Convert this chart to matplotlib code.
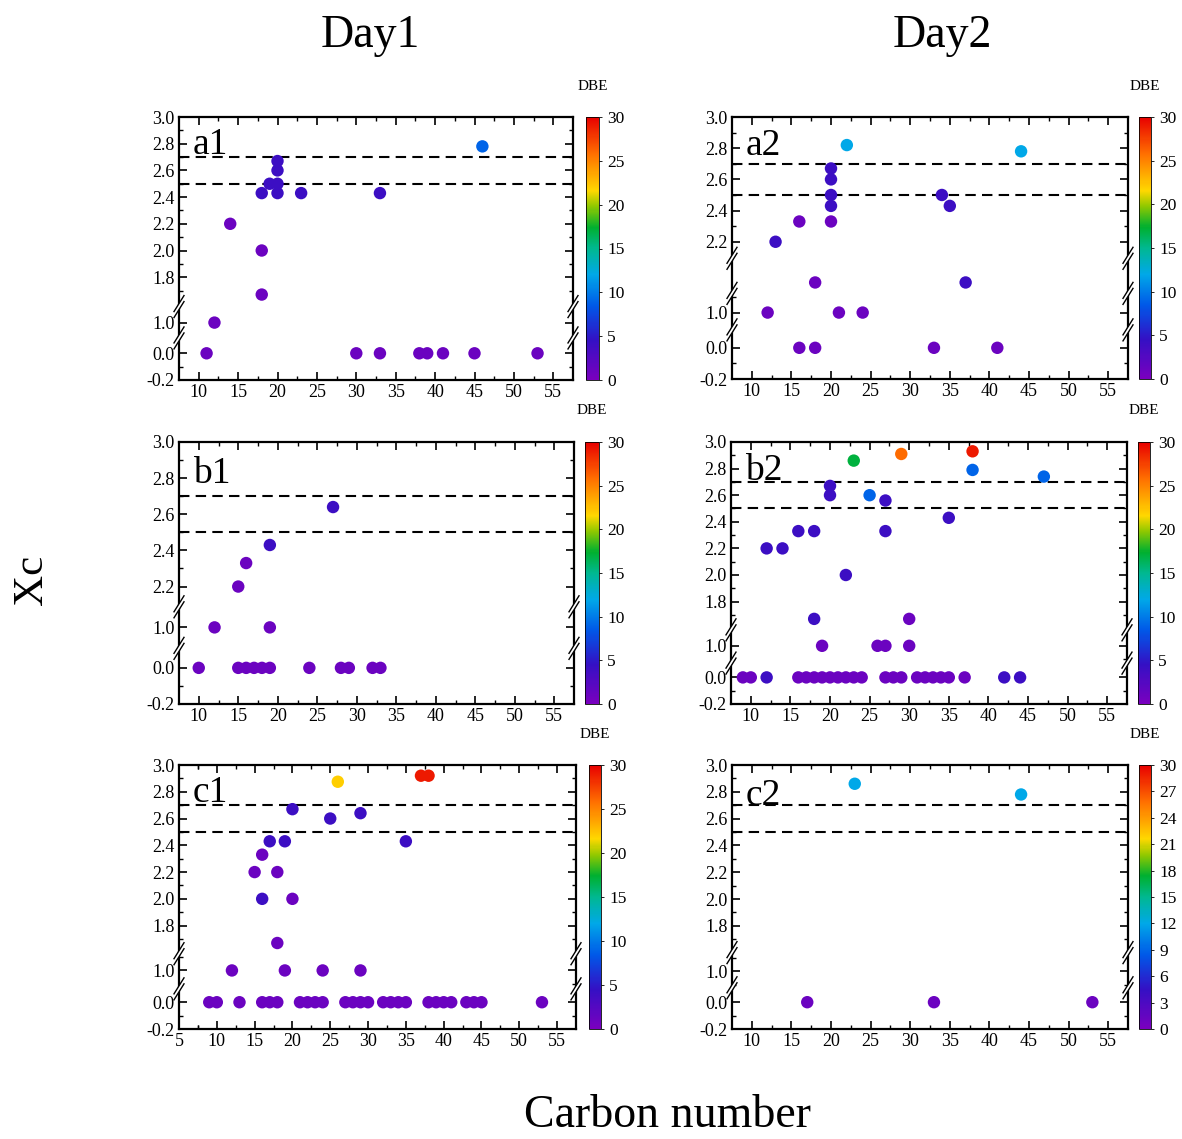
import numpy as np
import matplotlib
matplotlib.use("Agg")
import matplotlib.pyplot as plt
from matplotlib.colors import LinearSegmentedColormap, Normalize
from matplotlib.cm import ScalarMappable
from matplotlib.lines import Line2D
from matplotlib.patches import Polygon

plt.rcParams['font.family'] = ['Liberation Serif', 'DejaVu Serif']

# ---------------- data (carbon number, Xc, DBE) ----------------
a1_c = [11, 12, 14, 18, 18, 18, 19, 20, 20, 20, 20, 23, 33, 46, 30, 33, 38, 39, 41, 45, 53]
a1_xc = [0, 1.0, 2.2, 2.0, 1.67, 2.43, 2.5, 2.67, 2.6, 2.5, 2.43, 2.43, 2.43, 2.78, 0, 0, 0, 0, 0, 0, 0]
a1_dbe = [1, 1, 1, 1, 1, 4, 4, 4, 4, 4, 4, 4, 4, 9, 1, 1, 1, 1, 1, 1, 1]

a2_c = [12, 13, 16, 16, 18, 18, 20, 20, 20, 20, 20, 21, 22, 24, 33, 34, 35, 37, 41, 44]
a2_xc = [1.0, 2.2, 2.33, 0, 0, 1.67, 2.67, 2.6, 2.5, 2.43, 2.33, 1.0, 2.82, 1.0, 0, 2.5, 2.43, 1.67, 0, 2.78]
a2_dbe = [1, 4, 1, 1, 1, 1, 4, 4, 4, 4, 1, 1, 12, 1, 1, 4, 4, 4, 1, 12]

b1_c = [10, 12, 15, 16, 19, 19, 27, 15, 16, 17, 18, 19, 24, 28, 29, 32, 33]
b1_xc = [0, 1.0, 2.2, 2.33, 2.43, 1.0, 2.64, 0, 0, 0, 0, 0, 0, 0, 0, 0, 0]
b1_dbe = [1, 1, 1, 1, 4, 1, 4, 1, 1, 1, 1, 1, 1, 1, 1, 1, 1]

b2_c = [9, 10, 12, 16, 17, 18, 19, 20, 21, 22, 23, 24, 27, 28, 29, 31, 32, 33, 34, 35, 37, 42, 44,
        19, 26, 27, 30, 18, 30, 22, 12, 14, 16, 18, 27, 35, 27, 20, 25, 20, 47, 38, 23, 29, 38]
b2_xc = [0] * 23 + [1.0, 1.0, 1.0, 1.0, 1.67, 1.67, 2.0, 2.2, 2.2, 2.33, 2.33, 2.33, 2.43, 2.56,
                    2.6, 2.6, 2.67, 2.74, 2.79, 2.86, 2.91, 2.93]
b2_dbe = [1, 1, 4] + [1] * 18 + [4, 4] + [1, 1, 1, 1, 4, 1, 4, 4, 4, 4, 4, 4, 4, 4,
                                          4, 9, 4, 9, 9, 17, 26, 29]

c1_c = [9, 10, 13, 16, 17, 18, 21, 22, 23, 24, 27, 28, 29, 30, 32, 33, 34, 35, 38, 39, 40, 41, 43, 44, 45, 53,
        12, 19, 24, 29, 18, 16, 20, 15, 18, 16, 17, 19, 35, 25, 29, 20, 26, 37, 38]
c1_xc = [0] * 26 + [1.0, 1.0, 1.0, 1.0, 1.67, 2.0, 2.0, 2.2, 2.2, 2.33, 2.43, 2.43, 2.43, 2.6, 2.64, 2.67,
                    2.875, 2.92, 2.92]
c1_dbe = [1] * 26 + [1, 1, 1, 1, 1, 4, 1, 1, 1, 1, 4, 4, 4, 4, 4, 4, 22, 29, 29]

c2_c = [17, 33, 53, 23, 44]
c2_xc = [0, 0, 0, 2.86, 2.78]
c2_dbe = [1, 1, 1, 12, 12]

panel_labels = ['a1', 'a2', 'b1', 'b2', 'c1', 'c2']
col_titles = ['Day1', 'Day2']
cb_ticks_std = [0, 5, 10, 15, 20, 25, 30]
cb_ticks_c2 = [0, 3, 6, 9, 12, 15, 18, 21, 24, 27, 30]

# ---------------- layout ----------------
W, H = 1182, 1139
fig = plt.figure(figsize=(W / 100, H / 100), dpi=100)

cmap = LinearSegmentedColormap.from_list('origin_rainbow', [
    (0.00, '#7a00bf'), (0.15, '#3410c4'), (0.28, '#0058e8'), (0.40, '#00a8e8'),
    (0.50, '#00b890'), (0.58, '#00b030'), (0.66, '#90c800'), (0.72, '#ffd800'),
    (0.86, '#ff7000'), (1.00, '#e80000')])
norm = Normalize(0, 30)

up15 = [1.8, 2.0, 2.2, 2.4, 2.6, 2.8, 3.0]
up22 = [2.2, 2.4, 2.6, 2.8, 3.0]

panels = [
    dict(c=a1_c, y=a1_xc, d=a1_dbe, rect=(179, 573, 117, 380), cb=(586, 599),
         seg=[(-0.2, 0.115), (0.885, 1.12), (1.58, 3.0)], up=up15, xl=(7.5, 57.5), cbt=cb_ticks_std, ly=0.86),
    dict(c=a2_c, y=a2_xc, d=a2_dbe, rect=(732, 1128, 117, 379), cb=(1139, 1151),
         seg=[(-0.2, 0.115), (0.889, 1.123), (1.60, 1.825), (2.094, 3.0)], up=up22, xl=(7.5, 57.5),
         cbt=cb_ticks_std, ly=0.855),
    dict(c=b1_c, y=b1_xc, d=b1_dbe, rect=(179, 574, 442, 704), cb=(585, 599),
         seg=[(-0.2, 0.108), (0.884, 1.114), (2.088, 3.0)], up=up22, xl=(7.5, 57.5), cbt=cb_ticks_std, ly=0.845),
    dict(c=b2_c, y=b2_xc, d=b2_dbe, rect=(731, 1127, 442, 704), cb=(1138, 1150),
         seg=[(-0.2, 0.1075), (0.87, 1.12), (1.5875, 3.0)], up=up15, xl=(7.5, 57.5), cbt=cb_ticks_std, ly=0.855),
    dict(c=c1_c, y=c1_xc, d=c1_dbe, rect=(179, 576, 765, 1029), cb=(589, 601),
         seg=[(-0.2, 0.1), (0.8625, 1.125), (1.59, 3.0)], up=up15, xl=(5, 57.5), cbt=cb_ticks_std, ly=0.86),
    dict(c=c2_c, y=c2_xc, d=c2_dbe, rect=(732, 1128, 765, 1029), cb=(1139, 1151),
         seg=[(-0.2, 0.1075), (0.8775, 1.14), (1.6, 3.0)], up=up15, xl=(7.5, 57.5), cbt=cb_ticks_c2, ly=0.85),
]


def make_funcs(seg):
    ys, ds = [], []
    acc = 0.0
    for i, (lo, hi) in enumerate(seg):
        ys += [lo, hi]
        ds += [acc + (1e-6 if i else 0), acc + (hi - lo)]
        acc += hi - lo
    ys, ds = np.array(ys), np.array(ds)

    def fwd(v):
        return np.interp(v, ys, ds)

    def inv(v):
        return np.interp(v, ds, ys)
    return fwd, inv


def fx(px):
    return px / W


def fy(py):
    return 1 - py / H


def break_mark(cx, cy):
    # cx, cy in figure pixels (y from top)
    hw, hh = 5.0, 8.0
    g = 3.0
    poly = Polygon([(fx(cx - hw), fy(cy + hh - g)), (fx(cx + hw), fy(cy - hh - g)),
                    (fx(cx + hw), fy(cy - hh + g)), (fx(cx - hw), fy(cy + hh + g))],
                   closed=True, transform=fig.transFigure, facecolor='white', edgecolor='none', zorder=20)
    fig.patches.append(poly)
    for off in (-g, g):
        fig.lines.append(Line2D([fx(cx - hw), fx(cx + hw)], [fy(cy + hh + off), fy(cy - hh + off)],
                                transform=fig.transFigure, color='black', lw=1.0, zorder=21))


for p, lab in zip(panels, panel_labels):
    l, r, t, b = p['rect']
    ax = fig.add_axes([fx(l), fy(b), fx(r - l), (b - t) / H])
    fwd, inv = make_funcs(p['seg'])
    ax.set_yscale('function', functions=(fwd, inv))
    ax.set_ylim(-0.2, 3.0)
    ax.set_xlim(*p['xl'])

    ax.axhline(2.5, color='black', lw=1.5, ls=(0, (5, 3)), zorder=1)
    ax.axhline(2.7, color='black', lw=1.5, ls=(0, (5, 3)), zorder=1)

    order = np.argsort(p['d'], kind='stable')
    cc = np.array(p['c'])[order]
    yy = np.array(p['y'])[order]
    dd = np.array(p['d'])[order]
    ax.scatter(cc, yy, c=dd, cmap=cmap, norm=norm, s=80, edgecolors='none', zorder=3, clip_on=False)

    majors = [-0.2, 0.0, 1.0] + p['up']
    ax.set_yticks(majors)
    ax.set_yticklabels(['%.1f' % v for v in majors])
    minors = [-0.1, 0.9, 1.1] + [round(v - 0.1, 1) for v in p['up']]
    minors = [m for m in minors if any(lo + 0.02 < m < hi - 0.02 for lo, hi in p['seg'])]
    ax.set_yticks(minors, minor=True)

    x0 = 5 if p['xl'][0] < 7 else 10
    xt = list(range(x0, 56, 5))
    ax.set_xticks(xt)
    ax.set_xticks([v + 2.5 for v in xt if v + 2.5 < p['xl'][1]] + ([7.5] if x0 == 5 else []), minor=True)

    ax.tick_params(which='both', direction='in', top=True, right=True, labelsize=13, pad=3)
    ax.tick_params(which='major', length=6, width=1.2)
    ax.tick_params(which='minor', length=3, width=1.0)
    for s in ax.spines.values():
        s.set_linewidth(1.6)

    ax.text(0.035, p['ly'], lab, transform=ax.transAxes, fontsize=27, va='baseline', ha='left', zorder=5)

    # axis-break marks
    total = fwd(3.0) - fwd(-0.2)
    for lo, hi in p['seg'][:-1]:
        frac = (fwd(hi) - fwd(-0.2)) / total
        py = b - frac * (b - t)
        break_mark(l, py)
        break_mark(r, py)

    # colorbar
    c0, c1 = p['cb']
    cax = fig.add_axes([fx(c0), fy(b), fx(c1 - c0), (b - t) / H])
    sm = ScalarMappable(norm=norm, cmap=cmap)
    cbar = fig.colorbar(sm, cax=cax, ticks=p['cbt'])
    cbar.outline.set_linewidth(0.6)
    cax.tick_params(labelsize=12.5, length=2, width=0.6, direction='out', pad=4)
    fig.text(fx((c0 + c1) / 2), fy(t - 31), 'DBE', ha='center', va='center', fontsize=11)

fig.text(fx(370), fy(36), col_titles[0], ha='center', va='center', fontsize=33)
fig.text(fx(942), fy(36), col_titles[1], ha='center', va='center', fontsize=33)
fig.text(fx(32), fy(580), 'Xc', ha='center', va='center', fontsize=31, rotation=90)
fig.text(fx(668), fy(1116), 'Carbon number', ha='center', va='center', fontsize=33)

fig.savefig('out.png', dpi=100, facecolor='white')
